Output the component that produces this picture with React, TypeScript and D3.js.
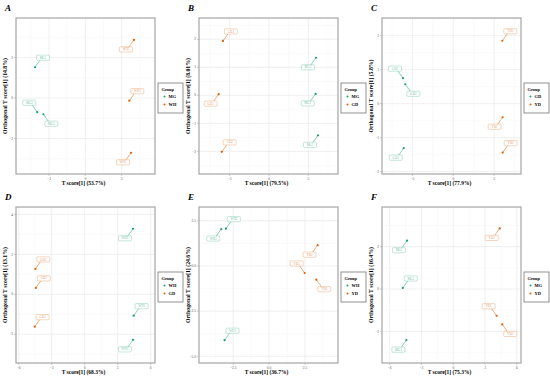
import { useMemo } from "react"
import * as d3 from "d3"

// panel letters, variance labels and groups
const panelLetters = ["A", "B", "C", "D", "E", "F"]
const xVariance = ["53.7%", "79.5%", "77.9%", "68.3%", "36.7%", "75.3%"]
const yVariance = ["14.8%", "8.01%", "5.8%", "13.1%", "24.6%", "16.4%"]
const groupNames = [
  ["MG", "WH"],
  ["MG", "GD"],
  ["GD", "YD"],
  ["WH", "GD"],
  ["WH", "YD"],
  ["MG", "YD"],
]

// axis limits and ticks
const xDomains = [
  [-5.73, 5.76],
  [-8.89, 8.77],
  [-8.73, 8.29],
  [-6.25, 6.39],
  [-4.88, 4.8],
  [-6.73, 6.39],
]
const yDomains = [
  [-3.75, 3.95],
  [-2.81, 2.76],
  [-2.07, 2.52],
  [-3.44, 4.37],
  [-5.37, 3.26],
  [-3.49, 3.87],
]
const xTicks = [
  [-3, 0, 3],
  [-5, 0, 5],
  [-5, 0, 5],
  [-6, -3, 0, 3, 6],
  [-2.5, 0, 2.5],
  [-6, -3, 0, 3, 6],
]
const yTicks = [
  [-2, 0, 2],
  [-2, -1, 0, 1, 2],
  [-2, -1, 0, 1, 2],
  [-2, 0, 2, 4],
  [-5, -2.5, 0, 2.5],
  [-2, 0, 2],
]

// samples: name, group index, t score, orthogonal score, label side
const sampleNames = [
  ["MG1", "MG2", "MG3", "WH1", "WH2", "WH3"],
  ["MG1", "MG2", "MG3", "GD1", "GD2", "GD3"],
  ["GD1", "GD2", "GD3", "YD1", "YD2", "YD3"],
  ["WH1", "WH2", "WH3", "GD1", "GD2", "GD3"],
  ["WH1", "WH2", "WH3", "YD1", "YD2", "YD3"],
  ["MG1", "MG2", "MG3", "YD1", "YD2", "YD3"],
]
const sampleGroups = [0, 0, 0, 1, 1, 1]
const tScores = [
  [-4.16, -3.97, -3.47, 3.78, 4.02, 3.64],
  [6.23, 5.93, 5.97, -6.39, -6.0, -5.85],
  [-6.16, -6.07, -5.87, 6.04, 6.04, 6.0],
  [4.39, 4.39, 4.45, -4.55, -4.45, -4.49],
  [-3.1, -3.01, -3.33, 2.48, 3.38, 3.29],
  [-4.37, -4.77, -4.43, 4.09, 4.38, 4.62],
]
const oScores = [
  [1.52, -0.7, -0.8, -2.7, 2.87, -0.13],
  [-1.43, 0.05, 1.34, 0.04, -2.02, 1.94],
  [0.75, -1.31, 0.57, -0.4, -1.44, 1.85],
  [-2.28, 3.28, -1.07, -1.62, 0.32, 1.27],
  [-4.11, 2.06, 2.04, -0.39, 1.15, -0.76],
  [2.28, 0.05, -2.41, -1.26, 2.86, -1.67],
]
const labelSides = [
  ["ur", "ul", "lr", "ll", "ll", "ur"],
  ["ll", "ll", "ll", "ll", "ur", "ur"],
  ["ul", "ll", "lr", "ll", "ur", "ur"],
  ["ll", "ll", "ur", "ur", "ur", "ur"],
  ["ur", "ur", "ll", "ul", "ll", "lr"],
  ["ll", "ur", "ll", "ul", "ll", "lr"],
]

const colors = ["#1b9e77", "#d95f02"]
const serif = "'Liberation Serif', 'DejaVu Serif', serif"

const cellW = 183
const cellH = 189
const box = { left: 16, right: 155, top: 18, bottom: 174 }

function fmt(v: number, i: number) {
  return i === 4 ? d3.format(".1f")(v) : d3.format("d")(v)
}

function Panel({ i }: { i: number }) {
  const x = d3.scaleLinear().domain(xDomains[i]).range([box.left, box.right])
  const y = d3.scaleLinear().domain(yDomains[i]).range([box.bottom, box.top])
  const xt = xTicks[i]
  const yt = yTicks[i]
  const step = xt[1] - xt[0]
  const ystep = yt[1] - yt[0]
  const xMinor = d3.range(xt[0] - step * 2, xt[xt.length - 1] + step * 2, step).map((v) => v + step / 2)
  const yMinor = d3.range(yt[0] - ystep * 2, yt[yt.length - 1] + ystep * 2, ystep).map((v) => v + ystep / 2)
  const inX = (v: number) => v > xDomains[i][0] && v < xDomains[i][1]
  const inY = (v: number) => v > yDomains[i][0] && v < yDomains[i][1]
  const col = (i % 3) * cellW
  const row = Math.floor(i / 3) * cellH
  const cy = (box.top + box.bottom) / 2

  return (
    <g transform={`translate(${col},${row})`}>
      <text x={5} y={11} fontFamily={serif} fontStyle="italic" fontWeight="bold" fontSize={9}>
        {panelLetters[i]}
      </text>
      <rect x={box.left} y={box.top} width={box.right - box.left} height={box.bottom - box.top} fill="white" />
      {xMinor.filter(inX).map((v) => (
        <line key={"xm" + v} x1={x(v)} x2={x(v)} y1={box.top} y2={box.bottom} stroke="#f2f2f2" strokeWidth={0.4} />
      ))}
      {yMinor.filter(inY).map((v) => (
        <line key={"ym" + v} y1={y(v)} y2={y(v)} x1={box.left} x2={box.right} stroke="#f2f2f2" strokeWidth={0.4} />
      ))}
      {xt.map((v) => (
        <g key={"xt" + v}>
          <line x1={x(v)} x2={x(v)} y1={box.top} y2={box.bottom} stroke="#e6e6e6" strokeWidth={0.6} />
          <line x1={x(v)} x2={x(v)} y1={box.bottom} y2={box.bottom + 2} stroke="#999" strokeWidth={0.5} />
          <text x={x(v)} y={box.bottom + 6} textAnchor="middle" fontSize={3.6} fill="#555" fontFamily={serif}>
            {fmt(v, i)}
          </text>
        </g>
      ))}
      {yt.map((v) => (
        <g key={"yt" + v}>
          <line y1={y(v)} y2={y(v)} x1={box.left} x2={box.right} stroke="#e6e6e6" strokeWidth={0.6} />
          <line y1={y(v)} y2={y(v)} x1={box.left - 2} x2={box.left} stroke="#999" strokeWidth={0.5} />
          <text x={box.left - 3} y={y(v) + 1.2} textAnchor="end" fontSize={3.6} fill="#555" fontFamily={serif}>
            {fmt(v, i)}
          </text>
        </g>
      ))}
      <rect
        x={box.left}
        y={box.top}
        width={box.right - box.left}
        height={box.bottom - box.top}
        fill="none"
        stroke="#a6a6a6"
        strokeWidth={1.2}
      />
      {sampleNames[i].map((name, k) => {
        const px = x(tScores[i][k])
        const py = y(oScores[i][k])
        const side = labelSides[i][k]
        const c = colors[sampleGroups[k]]
        const lx = px + (side[1] === "r" ? 8 : -8)
        const ly = py + (side[0] === "u" ? -9.5 : 9.5)
        const ex = lx + (side[1] === "r" ? -3 : 3)
        const ey = ly + (side[0] === "u" ? 2.5 : -2.5)
        return (
          <g key={name}>
            <line x1={px} y1={py} x2={ex} y2={ey} stroke={c} strokeWidth={0.5} />
            <rect x={lx - 6.5} y={ly - 2.6} width={13} height={5.2} rx={1} fill="white" fillOpacity={0.9} stroke={c} strokeOpacity={0.5} strokeWidth={0.5} />
            <text x={lx} y={ly + 1.1} textAnchor="middle" fontSize={3.2} fill={c} fillOpacity={0.7} fontFamily={serif}>
              {name}
            </text>
            <circle cx={px} cy={py} r={1.1} fill={c} />
          </g>
        )
      })}
      <text
        x={box.left + (box.right - box.left) / 2 - 2}
        y={185}
        textAnchor="middle"
        fontFamily={serif}
        fontWeight="bold"
        fontSize={5.5}
      >
        {`T score[1] (${xVariance[i]})`}
      </text>
      <text
        transform={`translate(6.5,${cy}) rotate(-90)`}
        textAnchor="middle"
        fontFamily={serif}
        fontWeight="bold"
        fontSize={5.8}
      >
        {`Orthogonal T score[1] (${yVariance[i]})`}
      </text>
      <g transform={`translate(158,${cy - 13})`}>
        <rect x={0} y={0} width={25} height={30} fill="white" stroke="#777" strokeWidth={0.8} />
        <text x={3.5} y={7.5} fontFamily={serif} fontWeight="bold" fontSize={4.4}>
          Group
        </text>
        {groupNames[i].map((gname, g) => (
          <g key={gname} transform={`translate(0,${13.5 + g * 8})`}>
            <circle cx={6.5} cy={0} r={1} fill={colors[g]} />
            <text x={10.5} y={1.6} fontFamily={serif} fontWeight="bold" fontSize={4.4}>
              {gname}
            </text>
          </g>
        ))}
      </g>
    </g>
  )
}

export default function App() {
  const panels = useMemo(() => d3.range(6), [])
  return (
    <svg width={550} height={378} style={{ position: "absolute", left: 0, top: 0, background: "white" }}>
      {panels.map((i) => (
        <Panel key={i} i={i} />
      ))}
    </svg>
  )
}
